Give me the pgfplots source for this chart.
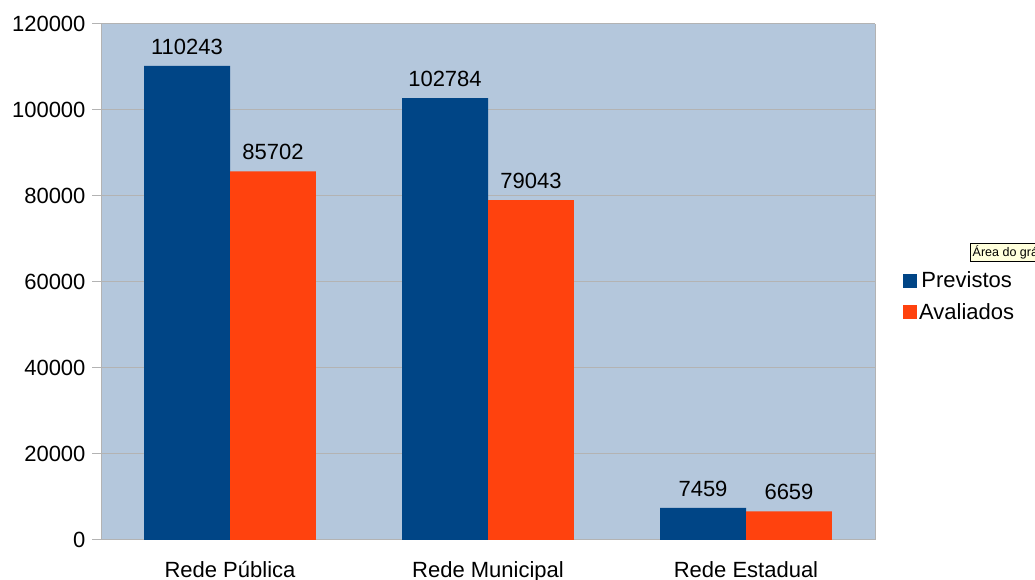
\documentclass[border=0pt]{standalone}
\usepackage{pgfplots}
\pgfplotsset{compat=1.18}
\usepackage{fontspec}
\setmainfont{Liberation Sans}
\definecolor{bgblue}{HTML}{B4C7DC}
\definecolor{cblue}{HTML}{004586}
\definecolor{corange}{HTML}{FF420E}
\definecolor{gridgray}{HTML}{B3B3B3}
\definecolor{tipyellow}{HTML}{FFFFDC}
\newcommand{\bigf}{\fontsize{22}{26}\selectfont}
\begin{document}
\begin{tikzpicture}
\path[use as bounding box] (0,0) rectangle (1035pt,580pt);
\begin{axis}[
  at={(101pt,40pt)}, anchor=south west,
  scale only axis, width=774pt, height=516pt,
  xmin=-0.5, xmax=2.5, ymin=0, ymax=120000,
  ybar=0pt, bar width=0.3333,
  axis background/.style={fill=bgblue},
  axis line style={gridgray, line width=1pt},
  axis x line*=bottom, axis y line*=left,
  ytick={0,20000,40000,60000,80000,100000,120000},
  yticklabels={0,20000,40000,60000,80000,100000,120000},
  scaled y ticks=false,
  ymajorgrids, major grid style={gridgray, line width=1pt},
  tick align=outside, tick style={gridgray, line width=1pt},
  major tick length=9pt,
  xtick={0,1,2},
  xticklabels={Rede Pública, Rede Municipal, Rede Estadual},
  x tick style={draw=none},
  extra x ticks={-0.5,0.5,1.5,2.5},
  extra x tick labels={},
  extra x tick style={tick style={gridgray, line width=1pt, draw=gridgray}, major tick length=9pt, xmajorgrids=false},
  ticklabel style={font=\bigf, text=black},
  yticklabel style={xshift=-3pt},
  xticklabel style={yshift=-9pt},
  point meta=explicit symbolic,
  nodes near coords,
  every node near coord/.append style={font=\bigf, text=black, yshift=8pt},
  legend style={at={(1,0.472)}, anchor=west, xshift=25pt, draw=none, fill=none, font=\bigf, row sep=10pt,
    /tikz/every even column/.append style={column sep=6pt}},
  legend image code/.code={\fill[#1] (0pt,-7pt) rectangle (14pt,7pt);},
  clip=false,
]
\addplot[fill=cblue, draw=none] coordinates {(0,110243) [110243] (1,102784) [102784] (2,7459) [7459]};
\addplot[fill=corange, draw=none] coordinates {(0,85702) [85702] (1,79043) [79043] (2,6659) [6659]};
\legend{Previstos, Avaliados}
\draw[gridgray, line width=1pt] (rel axis cs:1,0) -- (rel axis cs:1,1);
\end{axis}
\node[draw=black, fill=tipyellow, inner sep=2.5pt, anchor=north west, font=\fontsize{12.5}{14}\selectfont] at (970pt,337pt) {\makebox[66pt][l]{Área do grá}};
\end{tikzpicture}
\end{document}
